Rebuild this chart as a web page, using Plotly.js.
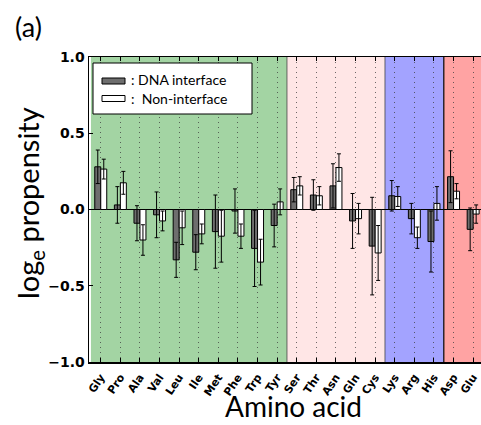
<!DOCTYPE html>
<html><head><meta charset="utf-8">
<script src="https://cdn.plot.ly/plotly-3.0.1.min.js"></script>
<style>body{margin:0;padding:0;background:#fff}#chart{width:481px;height:425px}</style>
</head><body><div id="chart"></div>
<script>
var cats = ['Gly','Pro','Ala','Val','Leu','Ile','Met','Phe','Trp','Tyr','Ser','Thr','Asn','Gln','Cys','Lys','Arg','His','Asp','Glu'];
var dnaVals = [0.28, 0.03, -0.09, -0.035, -0.33, -0.28, -0.145, -0.01, -0.255, -0.105, 0.13, 0.095, 0.155, -0.075, -0.24, 0.09, -0.06, -0.21, 0.215, -0.13];
var dnaErr  = [0.11, 0.12, 0.115, 0.15, 0.115, 0.115, 0.24, 0.145, 0.25, 0.14, 0.08, 0.10, 0.145, 0.18, 0.32, 0.10, 0.10, 0.20, 0.17, 0.14];
var nonVals = [0.265, 0.175, -0.2, -0.075, -0.12, -0.16, -0.175, -0.175, -0.345, 0.05, 0.155, 0.09, 0.275, -0.06, -0.285, 0.085, -0.185, 0.04, 0.12, -0.03];
var nonErr  = [0.065, 0.075, 0.10, 0.065, 0.11, 0.065, 0.17, 0.08, 0.15, 0.085, 0.06, 0.06, 0.09, 0.10, 0.18, 0.065, 0.07, 0.11, 0.05, 0.06];
var groups = [ // [first index, last index, colour]
  [0, 9, 'rgb(163,212,163)'],
  [10, 14, 'rgb(255,230,230)'],
  [15, 17, 'rgb(163,163,255)'],
  [18, 19, 'rgb(255,163,163)']
];
var yTicks = [-1.0, -0.5, 0.0, 0.5, 1.0];
var yTickText = ['\u22121.0', '\u22120.5', '0.0', '0.5', '1.0'];
var legendNames = [': DNA interface', ':  Non-interface'];
var xTitle = 'Amino acid';
var yTitle = 'log<sub>e</sub> propensity';
var panelLabel = '(a)';

var xIdx = cats.map(function(c,i){return i;});
var traces = [
  {type:'bar', x:xIdx, y:dnaVals, name:legendNames[0], showlegend:false,
   marker:{color:'#6e6e6e', line:{color:'#000', width:1}},
   error_y:{type:'data', array:dnaErr, visible:true, color:'#000', thickness:1, width:2}},
  {type:'bar', x:xIdx, y:nonVals, name:legendNames[1], showlegend:false,
   marker:{color:'#ffffff', line:{color:'#000', width:1}},
   error_y:{type:'data', array:nonErr, visible:true, color:'#000', thickness:1, width:2}}
];

var xmin = -0.6, xmax = 19.4;
var shapes = [];
groups.forEach(function(g){
  shapes.push({type:'rect', xref:'x', yref:'paper', x0:Math.max(xmin,g[0]-0.5), x1:Math.min(xmax,g[1]+0.5), y0:0, y1:1,
    fillcolor:g[2], line:{width:0}, layer:'below'});
});
[9.5, 14.5, 17.5].forEach(function(b, k){
  shapes.push({type:'line', xref:'x', yref:'paper', x0:b, x1:b, y0:0, y1:1,
    line:{color: k==2 ? 'rgba(0,0,0,0.8)' : 'rgba(60,60,60,0.5)', width:1.5}, layer:'below'});
});
// legend box
function px2x(p){return (p-89)/392;}
function py2y(p){return (362-p)/305;}
shapes.push({type:'rect', xref:'paper', yref:'paper', x0:px2x(93), x1:px2x(252), y0:py2y(114), y1:py2y(63),
  fillcolor:'#fff', line:{color:'#000', width:1}, layer:'above'});
shapes.push({type:'rect', xref:'paper', yref:'paper', x0:px2x(102), x1:px2x(125), y0:py2y(84), y1:py2y(78),
  fillcolor:'#6e6e6e', line:{color:'#000', width:1}, layer:'above'});
shapes.push({type:'rect', xref:'paper', yref:'paper', x0:px2x(102), x1:px2x(125), y0:py2y(101.5), y1:py2y(95.5),
  fillcolor:'#fff', line:{color:'#000', width:1}, layer:'above'});

var annotations = [
  {text:panelLabel, xref:'paper', yref:'paper', x:px2x(28), y:py2y(27), xanchor:'center', yanchor:'middle',
   showarrow:false, font:{family:'Lato', size:27, color:'#000'}},
  {text:legendNames[0], xref:'paper', yref:'paper', x:px2x(129), y:py2y(80), xanchor:'left', yanchor:'middle',
   showarrow:false, font:{family:'Lato', size:14, color:'#000'}},
  {text:legendNames[1], xref:'paper', yref:'paper', x:px2x(129), y:py2y(98.5), xanchor:'left', yanchor:'middle',
   showarrow:false, font:{family:'Lato', size:14, color:'#000'}},
  {text:xTitle, xref:'paper', yref:'paper', x:px2x(293), y:py2y(406), xanchor:'center', yanchor:'middle',
   showarrow:false, font:{family:'Lato', size:28, color:'#000'}},
  {text:yTitle, xref:'paper', yref:'paper', x:px2x(29), y:py2y(203), xanchor:'center', yanchor:'middle', textangle:-90,
   showarrow:false, font:{family:'Lato', size:29, color:'#000'}}
];

var layout = {
  width:481, height:425,
  margin:{l:89, r:0, t:57, b:63},
  paper_bgcolor:'#fff', plot_bgcolor:'rgba(0,0,0,0)',
  barmode:'group', bargap:0.39, bargroupgap:0,
  xaxis:{range:[xmin,xmax], tickmode:'array', tickvals:xIdx, ticktext:cats, tickangle:-56,
    tickfont:{family:'DejaVu Sans', size:11, weight:'bold', color:'#000'}, ticklabelstandoff:3,
    showgrid:true, gridcolor:'rgba(60,60,60,0.75)', griddash:'1px,4px', gridwidth:1,
    showline:true, linecolor:'#000', linewidth:1.5, mirror:'ticks', ticks:'inside', ticklen:4, tickcolor:'#000',
    zeroline:false, fixedrange:true},
  yaxis:{range:[-1,1], tickmode:'array', tickvals:yTicks, ticktext:yTickText,
    tickfont:{family:'DejaVu Sans', size:14, weight:'bold', color:'#000'},
    showgrid:false, showline:true, linecolor:'#000', linewidth:1.5, ticks:'inside', ticklen:4, tickcolor:'#000',
    zeroline:true, zerolinecolor:'#000', zerolinewidth:1.5, fixedrange:true},
  shapes:shapes, annotations:annotations
};
Plotly.newPlot('chart', traces, layout, {displayModeBar:false, staticPlot:true});
</script></body></html>
